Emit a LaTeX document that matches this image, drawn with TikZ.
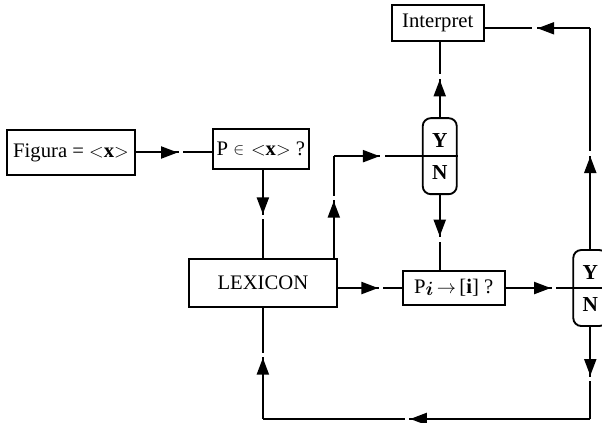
\documentclass[tikz,border=0pt]{standalone}
\usepackage{fontspec}
\setmainfont{Liberation Serif}
\usepackage{amsmath}
\usepackage{graphicx}
\usetikzlibrary{arrows.meta, positioning, decorations.markings}

\begin{document}
\begin{tikzpicture}[
    x=0.75pt, y=-0.75pt,
    font=\fontsize{15.5}{24}\selectfont,
    line width=1.5pt,
    block/.style={draw, line width=1.4pt, inner sep=0pt},
    yesno/.style={draw, line width=1.4pt, rounded corners=6pt, minimum width=25.5pt, minimum height=57pt, inner sep=0pt, align=center, font=\fontsize{16}{24}\selectfont\bfseries},
    flow/.style={decoration={markings, mark=at position #1 with {\fill[white] (0.6pt,-2.2pt) rectangle (4pt,2.2pt); \arrow{Triangle[length=12.5pt, width=9pt]}}}, postaction=decorate},
    flow/.default=0.5
]
    \useasboundingbox (0,0) rectangle (602,423);

    % Boxes
    \node[block, minimum width=96pt, minimum height=33.75pt] (figura) at (71,152.5) {Figura = $<$\textbf{x}$>$};
    \node[block, minimum width=72pt, minimum height=30pt, right=57pt of figura, yshift=2.5pt] (member) {P \raisebox{0.15ex}{\scalebox{0.85}{$\in$}}\,\,$<$\textbf{x}$>$ ?};
    \node[block, minimum width=111pt, minimum height=36pt, below=66pt of member, xshift=1.5pt] (lexicon) {LEXICON};
    \node[block, minimum width=76.5pt, minimum height=25.5pt, right=48pt of lexicon, yshift=-3.75pt] (pi) {P\raisebox{-0.2ex}{$\boldsymbol{i}$}\,$\rightarrow$\,[\textbf{i}] ?};
    \node[yesno, above=56.25pt of pi, xshift=-10.5pt] (yn1) {Y\\N};
    \node[block, minimum width=69pt, minimum height=27pt, above=56.25pt of yn1, xshift=-1.5pt] (interpret) {Interpret};
    \node[yesno, right=50pt of pi] (yn2) {Y\\N};

    % Corners
    \coordinate (lexout) at ([xshift=-3pt]lexicon.north east);
    \coordinate (bend) at (lexout |- yn1.center);
    \coordinate (intin) at ([yshift=-3.75pt]interpret.east);
    \coordinate (topright) at (yn2.north |- intin);
    \coordinate[below=69pt of yn2] (botright);
    \coordinate (botleft) at (lexicon.south |- botright);

    % Flow
    \draw[flow=0.55] (figura.east) -- (figura.east -| member.west);
    \draw[flow=0.5] (member.south -| lexicon.north) -- (lexicon.north);
    \draw[flow=0.56] (lexout) -- (bend);
    \draw[flow=0.37] (bend) -- (yn1.east);
    \draw[flow=0.5] (yn1.north) -- (yn1.north |- interpret.south);
    \draw[flow=0.55] (yn1.south) -- (yn1.south |- pi.north);
    \draw[flow=0.63] (lexicon.east |- pi.west) -- (pi.west);
    \draw[flow=0.44] (pi.east) -- (yn2.east);
    \draw[flow=0.42] (yn2.north) -- (topright);
    \draw[flow=0.5] (topright) -- (intin);
    \draw[flow=0.53] (yn2.south) -- (botright);
    \draw[flow=0.55] (botright) -- (botleft);
    \draw[flow=0.55] (botleft) -- (lexicon.south);
\end{tikzpicture}
\end{document}
